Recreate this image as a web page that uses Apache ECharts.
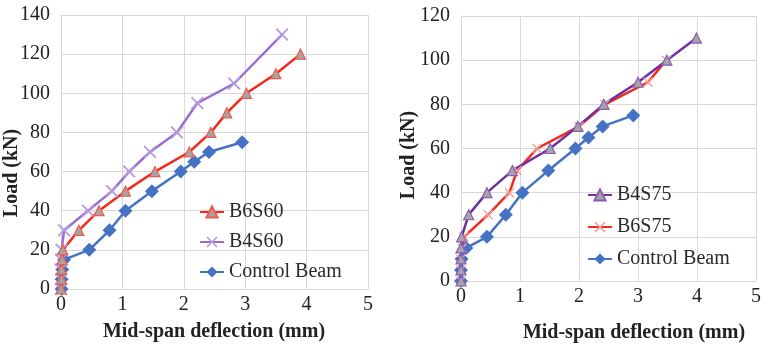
<!DOCTYPE html>
<html>
<head>
<meta charset="utf-8">
<script src="https://cdn.jsdelivr.net/npm/echarts@6/dist/echarts.min.js"></script>
<style>
  html, body { margin: 0; padding: 0; background: #fff; }
  #chart { width: 764px; height: 347px; }
</style>
</head>
<body>
<div id="chart"></div>
<script>
// left panel (S60)
const b6s60X = [0, 0.01, 0.01, 0.02, 0.03, 0.29, 0.62, 1.05, 1.53, 2.09, 2.44, 2.7, 3.02, 3.5, 3.9];
const b6s60Y = [0, 5, 10, 15, 20, 30, 40, 50, 60, 70, 80, 90, 100, 110, 120];
const b4s60X = [0, 0, 0, 0, 0.01, 0.05, 0.44, 0.83, 1.11, 1.45, 1.89, 2.22, 2.82, 3.6];
const b4s60Y = [0, 5, 10, 15, 20, 30, 40, 50, 60, 70, 80, 95, 105, 130];
const ctrlLX = [0.01, 0.01, 0.02, 0.05, 0.46, 0.79, 1.05, 1.48, 1.95, 2.17, 2.41, 2.95];
const ctrlLY = [0, 5, 10, 15, 20, 30, 40, 50, 60, 65, 70, 75];

// right panel (S75)
const b4s75X = [0, 0, 0, 0, 0.01, 0.13, 0.44, 0.87, 1.51, 1.98, 2.42, 3.0, 3.49, 3.99];
const b4s75Y = [0, 5, 10, 15, 20, 30, 40, 50, 60, 70, 80, 90, 100, 110];
const b6s75X = [0, 0, 0, 0.02, 0.05, 0.46, 0.82, 0.95, 1.29, 2.0, 2.44, 3.17, 3.48];
const b6s75Y = [0, 5, 10, 15, 20, 30, 40, 50, 60, 70, 80, 90, 100];
const ctrlRX = [0, 0, 0.01, 0.09, 0.44, 0.76, 1.04, 1.48, 1.94, 2.16, 2.4, 2.92];
const ctrlRY = [0, 5, 10, 15, 20, 30, 40, 50, 60, 65, 70, 75];

const xTicks = [0, 1, 2, 3, 4, 5];

const serif = "'Liberation Serif', 'DejaVu Serif', serif";
const gridColor = "#d9d9d9";
const crossPath = "path://M0,1 L1,0 L5,4 L9,0 L10,1 L6,5 L10,9 L9,10 L5,6 L1,10 L0,9 L4,5 Z";

const pairs = (xs, ys) => xs.map((x, i) => [x, ys[i]]);

const xAxisBase = (gridIndex) => ({
	type: "value",
	gridIndex,
	min: xTicks[0],
	max: xTicks[xTicks.length - 1],
	interval: 1,
	axisLine: { show: true, lineStyle: { color: gridColor } },
	axisTick: { show: false },
	axisLabel: { color: "#222", fontFamily: serif, fontSize: 20, margin: 6 },
	splitLine: { show: true, lineStyle: { color: gridColor, width: 1 } },
});

const yAxisBase = (gridIndex, max) => ({
	type: "value",
	gridIndex,
	min: 0,
	max,
	interval: 20,
	axisLine: { show: true, lineStyle: { color: gridColor } },
	axisTick: { show: false },
	axisLabel: { color: "#222", fontFamily: serif, fontSize: 20, margin: 11 },
	splitLine: { show: true, lineStyle: { color: gridColor, width: 1 } },
});

const lineSeries = (name, data, idx, color, symbol, symbolSize, markerStyle) => ({
	name,
	type: "line",
	xAxisIndex: idx,
	yAxisIndex: idx,
	data,
	symbol,
	symbolSize,
	showSymbol: true,
	lineStyle: { color, width: 2.5 },
	itemStyle: markerStyle,
	animation: false,
});

const chart = echarts.init(document.getElementById("chart"));

const titleFont = `bold 20px ${serif}`;
const legendText = { fontFamily: serif, fontSize: 20, color: "#2a2a2a", lineHeight: 20 };

chart.setOption({
	animation: false,
	grid: [
		{ left: 61, top: 15, width: 307, height: 274 },
		{ left: 461, top: 16, width: 300, height: 265 },
	],
	xAxis: [xAxisBase(0), xAxisBase(1)],
	yAxis: [yAxisBase(0, 140), yAxisBase(1, 120)],
	legend: [
		{
			orient: "vertical",
			left: 194,
			top: 197,
			itemWidth: 24,
			itemHeight: 14,
			itemGap: 10,
			data: ["B6S60", "B4S60", "Control Beam"],
			textStyle: legendText,
		},
		{
			orient: "vertical",
			left: 582,
			top: 180,
			itemWidth: 24,
			itemHeight: 14,
			itemGap: 12,
			data: ["B4S75", "B6S75", "Control Beam"],
			textStyle: legendText,
		},
	],
	graphic: [
		{ type: "text", x: 12, y: 173, rotation: Math.PI / 2, style: { text: "Load (kN)", font: titleFont, fill: "#222", align: "center", verticalAlign: "middle" } },
		{ type: "text", x: 214, y: 332, style: { text: "Mid-span deflection (mm)", font: titleFont, fill: "#222", align: "center", verticalAlign: "middle" } },
		{ type: "text", x: 409, y: 155, rotation: Math.PI / 2, style: { text: "Load (kN)", font: titleFont, fill: "#222", align: "center", verticalAlign: "middle" } },
		{ type: "text", x: 634, y: 333, style: { text: "Mid-span deflection (mm)", font: titleFont, fill: "#222", align: "center", verticalAlign: "middle" } },
	],
	series: [
		lineSeries("Control Beam", pairs(ctrlLX, ctrlLY), 0, "#4472c4", "diamond", 14, { color: "#4472c4" }),
		lineSeries("B4S60", pairs(b4s60X, b4s60Y), 0, "#9b6fd0", crossPath, 13, { color: "#b49ae0" }),
		lineSeries("B6S60", pairs(b6s60X, b6s60Y), 0, "#f4291c", "triangle", 10, { color: "#a5a5a5", borderColor: "#f05a4a", borderWidth: 1.2 }),
		lineSeries("Control Beam", pairs(ctrlRX, ctrlRY), 1, "#4472c4", "diamond", 14, { color: "#4472c4" }),
		lineSeries("B6S75", pairs(b6s75X, b6s75Y), 1, "#f4291c", crossPath, 10, { color: "#f7a09a" }),
		lineSeries("B4S75", pairs(b4s75X, b4s75Y), 1, "#7030a0", "triangle", 10, { color: "#a5a5a5", borderColor: "#8a5cb8", borderWidth: 1.2 }),
	],
});
</script>
</body>
</html>
